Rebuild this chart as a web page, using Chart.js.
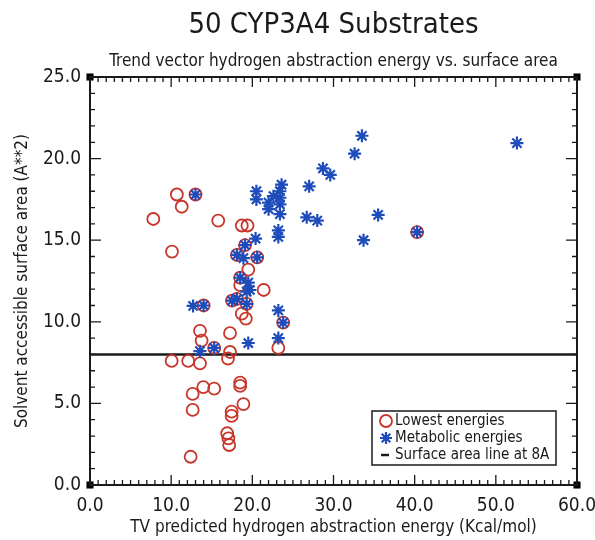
<!DOCTYPE html>
<html lang="en">
<head>
  <meta charset="UTF-8" />
  <title>50 CYP3A4 Substrates</title>
  <script src="https://cdn.jsdelivr.net/npm/chart.js"></script>
  <style>
    html, body { margin: 0; padding: 0; background: #fff; }
    #wrap { width: 595px; height: 540px; position: relative; }
  </style>
</head>
<body>
  <div id="wrap"><canvas id="cyp"></canvas></div>

  <script>
    // values
    const lowestX = [10.7, 13.0, 11.3, 7.8, 15.8, 18.7, 19.4, 10.1, 19.1, 18.1, 20.6, 19.5, 18.5, 18.5, 21.4, 14.0,
      17.5, 18.1, 19.3, 18.7, 19.2, 23.8, 13.55, 13.75, 17.25, 23.2, 15.3, 17.25, 17.0, 10.06, 12.1, 13.55,
      12.65, 13.96, 15.3, 18.5, 18.5, 18.9, 12.65, 17.45, 17.45, 16.9, 17.05, 17.15, 12.4, 40.3];
    const lowestY = [17.8, 17.8, 17.05, 16.3, 16.2, 15.9, 15.9, 14.3, 14.7, 14.1, 13.95, 13.2, 12.7, 12.25, 11.95, 11.0,
      11.3, 11.4, 11.1, 10.5, 10.2, 9.95, 9.45, 8.85, 9.3, 8.4, 8.4, 8.15, 7.75, 7.6, 7.6, 7.45,
      5.58, 6.0, 5.9, 6.27, 6.07, 4.96, 4.6, 4.49, 4.23, 3.17, 2.86, 2.45, 1.73, 15.5];

    const metabolicX = [13.0, 20.4, 23.2, 23.2, 19.1, 18.1, 18.9, 20.6, 18.5, 19.5, 19.7, 20.5, 20.5, 22.0, 22.0,
      22.6, 23.6, 23.4, 23.4, 23.4, 23.4, 33.5, 32.6, 28.7, 29.6, 27.0, 26.7, 28.0, 35.5, 33.7, 52.6, 40.3,
      12.7, 14.0, 17.5, 18.1, 19.3, 19.3, 23.2, 23.8, 19.5, 23.2, 13.55, 15.3];
    const metabolicY = [17.8, 15.1, 15.6, 15.2, 14.7, 14.1, 13.9, 13.95, 12.7, 12.4, 11.95, 18.0, 17.5, 17.3, 16.9,
      17.7, 18.4, 18.0, 17.6, 17.2, 16.6, 21.4, 20.3, 19.4, 19.0, 18.3, 16.4, 16.2, 16.55, 15.0, 20.95, 15.5,
      10.97, 11.0, 11.3, 11.4, 11.85, 11.1, 10.7, 9.95, 8.7, 9.0, 8.2, 8.4];

    const cutoffX = [0, 60];
    const cutoffY = [8, 8];

    const cornerX = [0, 60, 0, 60];
    const cornerY = [0, 0, 25, 25];

    const xTicks = [0, 10, 20, 30, 40, 50, 60];
    const yTicks = [0, 5, 10, 15, 20, 25];

    const FONT = "'Liberation Sans Narrow', 'DejaVu Sans Condensed', 'Liberation Sans', sans-serif";
    const INK = '#1a1a1a';
    const RED = '#c8352a';
    const BLUE = '#1f4cbb';

    const pts = (xs, ys) => xs.map((x, i) => ({ x: x, y: ys[i] }));

    // frame, inward ticks, titles and the boxed legend
    const decor = {
      id: 'decor',
      afterDraw(chart) {
        const { ctx, chartArea: a, scales: { x, y } } = chart;
        ctx.save();
        ctx.strokeStyle = INK;
        ctx.lineWidth = 2;
        ctx.strokeRect(a.left, a.top, a.right - a.left, a.bottom - a.top);

        ctx.lineWidth = 1.3;
        ctx.beginPath();
        for (let v = 0; v <= 60; v++) {
          const px = x.getPixelForValue(v);
          const len = v % 10 === 0 ? 10 : 5;
          ctx.moveTo(px, a.bottom); ctx.lineTo(px, a.bottom - len);
          ctx.moveTo(px, a.top); ctx.lineTo(px, a.top + len);
        }
        for (let v = 0; v <= 25; v++) {
          const py = y.getPixelForValue(v);
          const len = v % 5 === 0 ? 11 : 5;
          ctx.moveTo(a.left, py); ctx.lineTo(a.left + len, py);
          ctx.moveTo(a.right, py); ctx.lineTo(a.right - len, py);
        }
        ctx.stroke();

        const cx = (a.left + a.right) / 2;
        ctx.fillStyle = INK;
        ctx.textAlign = 'center';
        ctx.textBaseline = 'middle';
        ctx.font = '29px ' + FONT;
        ctx.fillText('50 CYP3A4 Substrates', cx, 25);
        ctx.font = '17px ' + FONT;
        ctx.fillText('Trend vector hydrogen abstraction energy vs. surface area', cx, 62);

        // legend
        const lx = 372, ly = 411, lw = 184, lh = 54;
        ctx.lineWidth = 1.5;
        ctx.strokeRect(lx, ly, lw, lh);
        const rows = [ly + 10, ly + 27, ly + 44];

        ctx.fillStyle = 'rgba(0,0,0,0)';
        ctx.strokeStyle = RED;
        ctx.lineWidth = 1.8;
        Chart.helpers.drawPoint(ctx, { pointStyle: 'circle', radius: 6, borderWidth: 1.8 }, lx + 14, rows[0]);
        ctx.strokeStyle = BLUE;
        ctx.lineWidth = 2.2;
        Chart.helpers.drawPoint(ctx, { pointStyle: 'star', radius: 6, borderWidth: 2.2 }, lx + 14, rows[1]);

        ctx.strokeStyle = INK;
        ctx.lineWidth = 2.5;
        ctx.beginPath();
        ctx.moveTo(lx + 9, rows[2]); ctx.lineTo(lx + 17, rows[2]);
        ctx.stroke();

        ctx.fillStyle = INK;
        ctx.textAlign = 'left';
        ctx.font = '15px ' + FONT;
        ctx.fillText('Lowest energies', lx + 23, rows[0]);
        ctx.fillText('Metabolic energies', lx + 23, rows[1]);
        ctx.fillText('Surface area line at 8A', lx + 23, rows[2]);
        ctx.restore();
      }
    };

    new Chart(document.getElementById('cyp'), {
      type: 'scatter',
      data: {
        datasets: [
          {
            label: 'Surface area line at 8A',
            type: 'line',
            data: pts(cutoffX, cutoffY),
            borderColor: INK,
            borderWidth: 2.5,
            pointRadius: 0,
            order: 3
          },
          {
            label: 'Lowest energies',
            data: pts(lowestX, lowestY),
            pointStyle: 'circle',
            pointRadius: 6,
            borderWidth: 1.8,
            borderColor: RED,
            backgroundColor: 'rgba(0,0,0,0)',
            order: 2
          },
          {
            label: 'Metabolic energies',
            data: pts(metabolicX, metabolicY),
            pointStyle: 'star',
            pointRadius: 6.5,
            borderWidth: 2.2,
            borderColor: BLUE,
            backgroundColor: BLUE,
            order: 1
          },
          {
            label: 'corners',
            data: pts(cornerX, cornerY),
            pointStyle: 'rect',
            pointRadius: 5,
            borderWidth: 0,
            backgroundColor: '#000',
            order: 0
          }
        ]
      },
      options: {
        responsive: true,
        maintainAspectRatio: false,
        animation: false,
        clip: false,
        layout: { padding: { top: 77, right: 18, left: 0, bottom: 0 } },
        plugins: {
          legend: { display: false },
          tooltip: { enabled: false }
        },
        scales: {
          x: {
            type: 'linear',
            min: 0,
            max: 60,
            afterFit: s => { s.height = 55; s.paddingLeft = 0; s.paddingRight = 0; },
            afterBuildTicks: s => { s.ticks = xTicks.map(v => ({ value: v })); },
            grid: { display: false, drawTicks: false },
            border: { display: false },
            ticks: {
              padding: 10,
              color: INK,
              font: { family: FONT, size: 19 },
              callback: v => v.toFixed(1)
            },
            title: {
              display: true,
              text: 'TV predicted hydrogen abstraction energy (Kcal/mol)',
              color: INK,
              font: { family: FONT, size: 17 },
              padding: { top: 6, bottom: 2 }
            }
          },
          y: {
            type: 'linear',
            min: 0,
            max: 25,
            afterFit: s => { s.width = 90; s.paddingTop = 0; s.paddingBottom = 0; },
            afterBuildTicks: s => { s.ticks = yTicks.map(v => ({ value: v })); },
            grid: { display: false, drawTicks: false },
            border: { display: false },
            ticks: {
              padding: 9,
              color: INK,
              font: { family: FONT, size: 19 },
              callback: v => v.toFixed(1)
            },
            title: {
              display: true,
              text: 'Solvent accessible surface area (A**2)',
              color: INK,
              font: { family: FONT, size: 17 },
              padding: { top: 12, bottom: 4 }
            }
          }
        }
      },
      plugins: [decor]
    });
  </script>
</body>
</html>
